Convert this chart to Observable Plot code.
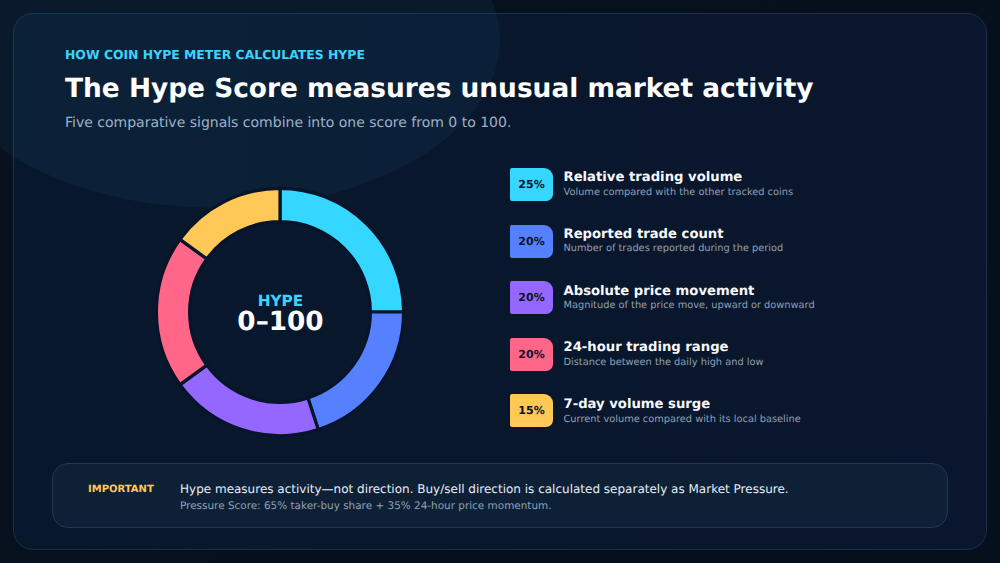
<!DOCTYPE html>
<html lang="en">
<head>
<meta charset="utf-8">
<title>How Coin Hype Meter calculates Hype</title>
<script src="https://cdn.jsdelivr.net/npm/d3@7"></script>
<script src="https://cdn.jsdelivr.net/npm/@observablehq/plot@0.6"></script>
<style>
  html, body { margin: 0; padding: 0; background: #07111f; }
  #page { position: relative; width: 1000px; height: 563px; overflow: hidden; font-family: "DejaVu Sans", sans-serif;
    text-rendering: geometricPrecision;
    background: linear-gradient(135deg, #07111f 0%, #06101c 100%); }
  #glow { position: absolute; left: -66px; top: -128px; width: 566px; height: 336px; border-radius: 50%; background: rgba(30, 100, 140, 0.12); }
  #panel { position: absolute; left: 12.5px; top: 12.5px; width: 974px; height: 537px; box-sizing: border-box; border-radius: 20px;
    border: 1.5px solid #1b2f47; background: linear-gradient(90deg, #08182c 0%, #0a162d 100%); }
  .t { position: absolute; white-space: nowrap; margin: 0; }
  #kicker { left: 65px; top: 47px; font-size: 12.4px; line-height: 16px; font-weight: 700; color: #38d5ff; }
  #title { left: 65px; top: 71px; font-size: 26.4px; line-height: 36px; font-weight: 700; color: #fff; }
  #subtitle { left: 65px; top: 113px; font-size: 14px; line-height: 20px; color: #9fb0c6; }
  #ring { position: absolute; left: 150px; top: 182px; }
  .chip { position: absolute; left: 510px; width: 43px; height: 33px; border-radius: 2px 9px 7px 2px; display: flex; align-items: center; justify-content: center;
    font-size: 11px; font-weight: 700; color: #07142a; }
  .rname { left: 563.5px; font-size: 13.2px; line-height: 18px; font-weight: 700; color: #f8fafc; }
  .rdesc { left: 563.5px; font-size: 9.8px; line-height: 14px; color: #8fa0b5; }
  #note { position: absolute; left: 52px; top: 463px; width: 896px; height: 65px; box-sizing: border-box; border-radius: 16px;
    border: 1.5px solid #21364f; background: #0e2036; }
  #imp { left: 88px; top: 483px; font-size: 10px; line-height: 14px; font-weight: 700; color: #ffc857; }
  #n1 { left: 180px; top: 480px; font-size: 12px; line-height: 18px; color: #e8eef6; }
  #n2 { left: 180px; top: 499px; font-size: 10.45px; line-height: 14px; color: #8fa0b5; }
</style>
</head>
<body>
<div id="page">
  <div id="panel"></div>
  <div id="glow"></div>
  <p class="t" id="kicker">HOW COIN HYPE METER CALCULATES HYPE</p>
  <h1 class="t" id="title">The Hype Score measures unusual market activity</h1>
  <p class="t" id="subtitle">Five comparative signals combine into one score from 0 to 100.</p>
  <div id="ring"></div>
  <div id="legend"></div>
  <div id="note"></div>
  <div class="t" id="imp">IMPORTANT</div>
  <div class="t" id="n1">Hype measures activity—not direction. Buy/sell direction is calculated separately as Market Pressure.</div>
  <div class="t" id="n2">Pressure Score: 65% taker-buy share + 35% 24-hour price momentum.</div>
</div>
<script>
const signals = ["Relative trading volume", "Reported trade count", "Absolute price movement", "24-hour trading range", "7-day volume surge"];
const weights = [25, 20, 20, 20, 15];
const details = [
  "Volume compared with the other tracked coins",
  "Number of trades reported during the period",
  "Magnitude of the price move, upward or downward",
  "Distance between the daily high and low",
  "Current volume compared with its local baseline"
];
const colors = ["#35d6ff", "#5580ff", "#9468ff", "#ff6688", "#ffc857"];

const rows = signals.map((signal, i) => ({signal, weight: weights[i]}));
const OUTER = 123.6, INNER = 90.4;

// The stacked bar supplies the angles through the x scale; render draws each as a ring sector.
function ringSectors(index, scales, values, dimensions) {
  const arc = d3.arc().innerRadius(INNER).outerRadius(OUTER);
  const g = d3.create("svg:g").attr("transform", `translate(${dimensions.width / 2},${dimensions.height / 2})`);
  for (const i of index) {
    g.append("path")
      .attr("d", arc({startAngle: values.x1[i], endAngle: values.x2[i]}))
      .attr("fill", values.fill[i])
      .attr("stroke", "#08142a")
      .attr("stroke-width", 3.2);
  }
  return g.node();
}

const chart = Plot.plot({
  width: 260,
  height: 260,
  margin: 0,
  style: {background: "transparent", overflow: "visible", fontFamily: "DejaVu Sans, sans-serif"},
  x: {domain: [0, 100], range: [0, 2 * Math.PI], axis: null},
  color: {domain: signals, range: colors},
  marks: [
    Plot.barX(rows, Plot.stackX({x: "weight", fill: "signal", render: ringSectors})),
    Plot.text(["HYPE"], {frameAnchor: "middle", dy: -11.5, fontSize: 15.3, fontWeight: 700, fill: "#38d5ff"}),
    Plot.text(["0–100"], {frameAnchor: "middle", dy: 9.5, fontSize: 26.3, fontWeight: 700, fill: "#ffffff"})
  ]
});
document.getElementById("ring").append(chart);

const legend = d3.select("#legend");
signals.forEach((name, i) => {
  const chipTop = 168 + i * 56.5;
  const textTop = 169 + i * 56.75;
  legend.append("div").attr("class", "chip").style("top", chipTop + "px").style("background", colors[i]).text(weights[i] + "%");
  legend.append("div").attr("class", "t rname").style("top", textTop + "px").text(name);
  legend.append("div").attr("class", "t rdesc").style("top", (textTop + 16.5) + "px").text(details[i]);
});
</script>
</body>
</html>
